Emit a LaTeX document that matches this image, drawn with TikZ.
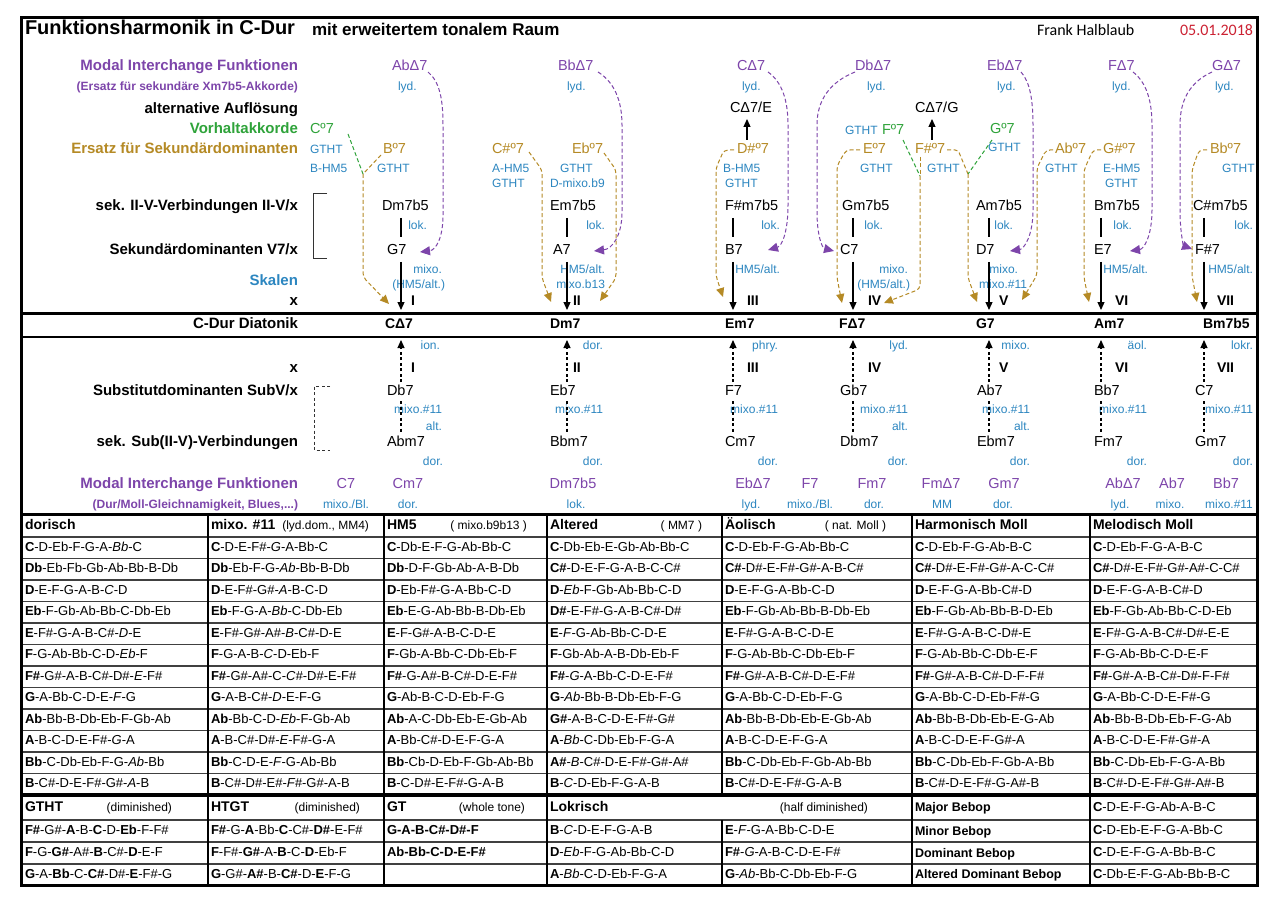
\documentclass[tikz,border=0pt]{standalone}
\usepackage{fontspec}
\setmainfont{Liberation Sans}
\newfontfamily\calibfont{Carlito}
\usetikzlibrary{arrows.meta}
\definecolor{cpurple}{HTML}{7D45AA}
\definecolor{cblue}{HTML}{2C86C0}
\definecolor{cgreen}{HTML}{2FA33A}
\definecolor{cgold}{HTML}{B58A25}
\definecolor{cred}{HTML}{CC2233}
\newcommand\fsz[1]{\fontsize{#1}{#1}\selectfont}
\newcommand\Rb[1]{\textbf{#1}}
\newcommand\Ri[1]{\textit{#1}}
\newcommand\trow[8]{%
\node[tcell] (tA#1) at (25,{537+21.5*(#1-0.5)}) {#2};%
\node[tcell] (tB#1) at (211,{537+21.5*(#1-0.5)}) {#3};%
\node[tcell] (tC#1) at (387,{537+21.5*(#1-0.5)}) {#4};%
\node[tcell] (tD#1) at (550,{537+21.5*(#1-0.5)}) {#5};%
\node[tcell] (tE#1) at (725,{537+21.5*(#1-0.5)}) {#6};%
\node[tcell] (tF#1) at (915,{537+21.5*(#1-0.5)}) {#7};%
\node[tcell] (tG#1) at (1093,{537+21.5*(#1-0.5)}) {#8};}
\begin{document}
\begin{tikzpicture}[x=1pt,y=-1pt,
 every node/.style={inner sep=0pt,outer sep=0pt,text height=0.716em,text depth=0pt},
 lbl/.style={font=\fsz{15}\bfseries,anchor=east},
 lbls/.style={font=\fsz{12}\bfseries,anchor=east},
 chd/.style={font=\fsz{14.5},anchor=west},
 chb/.style={font=\fsz{14}\bfseries,anchor=west},
 num/.style={font=\fsz{14}\bfseries,anchor=west},
 sc/.style={font=\fsz{12},text=cblue},
 pc/.style={font=\fsz{14.5},text=cpurple},
 gc/.style={font=\fsz{14.5},text=cgold},
 vc/.style={font=\fsz{14.5},text=cgreen},
 tcell/.style={font=\fsz{13},anchor=west},
 thead/.style={font=\fsz{14}\bfseries,anchor=west},
 tnote/.style={font=\fsz{12},anchor=east},
 bebop/.style={font=\fsz{12.5}\bfseries,anchor=west},
 arr/.style={line width=1.2pt,-{Triangle[length=8pt,width=7pt]}},
 darr/.style={line width=1.1pt,dash pattern=on 3pt off 2.5pt,-{Triangle[length=8pt,width=7pt]}},
 dline/.style={line width=1.1pt,dash pattern=on 3pt off 2.5pt},
 garr/.style={cgold,line width=1pt,dash pattern=on 4pt off 2.5pt,rounded corners=4pt,-{Triangle[length=9pt,width=8pt]}},
 gline/.style={cgold,line width=1pt,dash pattern=on 4pt off 2.5pt,rounded corners=3pt},
 vline/.style={cgreen,line width=1pt,dash pattern=on 4pt off 2.5pt},
 parr/.style={cpurple,line width=1pt,dash pattern=on 4pt off 2.5pt,-{Triangle[length=10pt,width=9pt]}},
 rowline/.style={black!75,line width=1.1pt},
 colline/.style={black,line width=2pt}]
\useasboundingbox (0,0) rectangle (1280,904);
\fill[white] (0,0) rectangle (1280,904);

% ---------- title ----------
\node[font=\fsz{20}\bfseries,anchor=west] (title) at (25,31) {Funktionsharmonik in C-Dur};
\node[font=\fsz{17}\bfseries,anchor=west] (subtitle) at (312,32) {mit erweitertem tonalem Raum};
\node[font=\calibfont\fsz{16},anchor=west] (author) at (1037,32) {Frank Halblaub};
\node[font=\calibfont\fsz{16},text=cred,anchor=east] (date) at (1253,32) {05.01.2018};

% ---------- left labels ----------
\node[lbl,text=cpurple] (lMI) at (298,67) {Modal Interchange Funktionen};
\node[lbls,text=cpurple] (lMIs) at (298,87) {(Ersatz für sekundäre Xm7b5-Akkorde)};
\node[lbl] (lAlt) at (298,110) {alternative Auflösung};
\node[lbl,text=cgreen] (lVor) at (298,130) {Vorhaltakkorde};
\node[lbl,text=cgold] (lErs) at (298,150) {Ersatz für Sekundärdominanten};
\node[lbl] (lIIV) at (298,207) {sek. II-V-Verbindungen II-V/x};
\node[lbl] (lSD) at (298,251) {Sekundärdominanten V7/x};
\node[lbl,text=cblue] (lSk) at (298,282) {Skalen};
\node[lbl] (lx1) at (298,302) {x};
\node[lbl] (lCD) at (298,325) {C-Dur Diatonik};
\node[lbl] (lx2) at (298,369) {x};
\node[lbl] (lSub) at (298,392) {Substitutdominanten SubV/x};
\node[lbl] (lSubII) at (298,443) {sek. Sub(II-V)-Verbindungen};
\node[lbl,text=cpurple] (lMI2) at (298,485) {Modal Interchange Funktionen};
\node[lbls,text=cpurple] (lMI2s) at (298,505) {(Dur/Moll-Gleichnamigkeit, Blues,...)};

% brackets
\coordinate (bA1) at (327,194); \coordinate (bA2) at (313,194);
\coordinate (bA3) at (313,259); \coordinate (bA4) at (327,259);
\draw[black!80,line width=1pt] (bA1) -- (bA2) -- (bA3) -- (bA4);
\coordinate (bB1) at (330,386); \coordinate (bB2) at (314,386);
\coordinate (bB3) at (314,450); \coordinate (bB4) at (330,450);
\draw[black!80,line width=1pt,dash pattern=on 3pt off 2.5pt] (bB1) -- (bB2) -- (bB3) -- (bB4);

% ---------- modal interchange (top) ----------
\node[pc,anchor=west] (mAb) at (392,67) {AbΔ7};
\node[sc,anchor=west] (mAbl) at (398,87) {lyd.};
\node[pc,anchor=west] (mBb) at (558,67) {BbΔ7};
\node[sc,anchor=west] (mBbl) at (567,87) {lyd.};
\node[pc,anchor=west] (mC) at (737,67) {CΔ7};
\node[sc,anchor=west] (mCl) at (742,87) {lyd.};
\node[pc,anchor=west] (mDb) at (855,67) {DbΔ7};
\node[sc,anchor=west] (mDbl) at (867,87) {lyd.};
\node[pc,anchor=west] (mEb) at (987,67) {EbΔ7};
\node[sc,anchor=west] (mEbl) at (997,87) {lyd.};
\node[pc,anchor=west] (mF) at (1108,67) {FΔ7};
\node[sc,anchor=west] (mFl) at (1112,87) {lyd.};
\node[pc,anchor=west] (mG) at (1212,67) {GΔ7};
\node[sc,anchor=west] (mGl) at (1215,87) {lyd.};

% alternative resolution
\node[chd] (altE) at (730,109) {CΔ7/E};
\node[chd] (altG) at (915,109) {CΔ7/G};
\coordinate (alE0) at (747,140); \coordinate (alE1) at (747,119);
\coordinate (alG0) at (932,140); \coordinate (alG1) at (932,119);
\draw[arr] (alE0) -- (alE1);
\draw[arr] (alG0) -- (alG1);

% Vorhalt
\node[vc,anchor=west] (vC) at (310,130) {Cº7};
\node[sc,anchor=west] (vCl) at (310,150) {GTHT};
\node[sc,anchor=west] (vCl2) at (310,169) {B-HM5};
\node[sc,anchor=west] (vFl) at (845,131) {GTHT};
\node[vc,anchor=west] (vF) at (882,131) {Fº7};
\node[vc,anchor=west] (vG) at (990,130) {Gº7};
\node[sc,anchor=west] (vGl) at (988,148) {GTHT};

% Ersatz
\node[gc,anchor=west] (gB) at (383,150) {Bº7};
\node[sc,anchor=west] (gBl) at (377,169) {GTHT};
\node[gc,anchor=west] (gCs) at (492,150) {C\#º7};
\node[sc,anchor=west] (gCsl) at (492,169) {A-HM5};
\node[sc,anchor=west] (gCsl2) at (492,184) {GTHT};
\node[gc,anchor=west] (gEb) at (572,150) {Ebº7};
\node[sc,anchor=west] (gEbl) at (560,169) {GTHT};
\node[sc,anchor=west] (gEbl2) at (550,184) {D-mixo.b9};
\node[gc,anchor=west] (gDs) at (737,150) {D\#º7};
\node[sc,anchor=west] (gDsl) at (723,169) {B-HM5};
\node[sc,anchor=west] (gDsl2) at (725,184) {GTHT};
\node[gc,anchor=west] (gE) at (863,150) {Eº7};
\node[sc,anchor=west] (gEl) at (860,169) {GTHT};
\node[gc,anchor=west] (gFs) at (915,150) {F\#º7};
\node[sc,anchor=west] (gFsl) at (927,169) {GTHT};
\node[gc,anchor=west] (gAb) at (1055,150) {Abº7};
\node[sc,anchor=west] (gAbl) at (1045,169) {GTHT};
\node[gc,anchor=west] (gGs) at (1103,150) {G\#º7};
\node[sc,anchor=west] (gGsl) at (1103,169) {E-HM5};
\node[sc,anchor=west] (gGsl2) at (1105,184) {GTHT};
\node[gc,anchor=west] (gBb) at (1210,150) {Bbº7};
\node[sc,anchor=west] (gBbl) at (1222,169) {GTHT};

% II-V row
\node[chd] (ii1) at (382,207) {Dm7b5};
\node[chd] (ii2) at (550,207) {Em7b5};
\node[chd] (ii3) at (725,207) {F\#m7b5};
\node[chd] (ii4) at (842,207) {Gm7b5};
\node[chd] (ii5) at (976,207) {Am7b5};
\node[chd] (ii6) at (1094,207) {Bm7b5};
\node[chd] (ii7) at (1193,207) {C\#m7b5};
\node[sc,anchor=east] (lk1) at (427,226) {lok.};
\node[sc,anchor=east] (lk2) at (605,226) {lok.};
\node[sc,anchor=east] (lk3) at (780,226) {lok.};
\node[sc,anchor=east] (lk4) at (883,226) {lok.};
\node[sc,anchor=east] (lk5) at (1013,226) {lok.};
\node[sc,anchor=east] (lk6) at (1132,226) {lok.};
\node[sc,anchor=east] (lk7) at (1253,226) {lok.};

% V7 row
\node[chd] (v1) at (387,251) {G7};
\node[chd] (v2) at (553,251) {A7};
\node[chd] (v3) at (725,251) {B7};
\node[chd] (v4) at (840,251) {C7};
\node[chd] (v5) at (976,251) {D7};
\node[chd] (v6) at (1094,251) {E7};
\node[chd] (v7) at (1195,251) {F\#7};

% scales
\node[sc,anchor=east] (s1a) at (442,270) {mixo.};
\node[sc,anchor=east] (s1b) at (445,285) {(HM5/alt.)};
\node[sc,anchor=east] (s2a) at (605,270) {HM5/alt.};
\node[sc,anchor=east] (s2b) at (605,285) {mixo.b13};
\node[sc,anchor=east] (s3a) at (780,270) {HM5/alt.};
\node[sc,anchor=east] (s4a) at (908,270) {mixo.};
\node[sc,anchor=east] (s4b) at (910,285) {(HM5/alt.)};
\node[sc,anchor=east] (s5a) at (1018,270) {mixo.};
\node[sc,anchor=east] (s5b) at (1027,285) {mixo.\#11};
\node[sc,anchor=east] (s6a) at (1148,270) {HM5/alt.};
\node[sc,anchor=east] (s7a) at (1253,270) {HM5/alt.};

% numerals upper
\node[num] (n1) at (411,302) {I};
\node[num] (n2) at (573,302) {II};
\node[num] (n3) at (747,302) {III};
\node[num] (n4) at (868,302) {IV};
\node[num] (n5) at (999,302) {V};
\node[num] (n6) at (1115,302) {VI};
\node[num] (n7) at (1217,302) {VII};

% diatonic
\node[chb] (d1) at (385,325) {CΔ7};
\node[chb] (d2) at (550,325) {Dm7};
\node[chb] (d3) at (725,325) {Em7};
\node[chb] (d4) at (839,325) {FΔ7};
\node[chb] (d5) at (976,325) {G7};
\node[chb] (d6) at (1094,325) {Am7};
\node[chb] (d7) at (1203,325) {Bm7b5};

% modes
\node[sc,anchor=east] (md1) at (440,346) {ion.};
\node[sc,anchor=east] (md2) at (603,346) {dor.};
\node[sc,anchor=east] (md3) at (778,346) {phry.};
\node[sc,anchor=east] (md4) at (908,346) {lyd.};
\node[sc,anchor=east] (md5) at (1030,346) {mixo.};
\node[sc,anchor=east] (md6) at (1147,346) {äol.};
\node[sc,anchor=east] (md7) at (1253,346) {lokr.};

% numerals lower
\node[num] (m1) at (411,369) {I};
\node[num] (m2) at (573,369) {II};
\node[num] (m3) at (747,369) {III};
\node[num] (m4) at (868,369) {IV};
\node[num] (m5) at (999,369) {V};
\node[num] (m6) at (1115,369) {VI};
\node[num] (m7) at (1217,369) {VII};

% SubV
\node[chd] (sv1) at (387,392) {Db7};
\node[chd] (sv2) at (550,392) {Eb7};
\node[chd] (sv3) at (725,392) {F7};
\node[chd] (sv4) at (840,392) {Gb7};
\node[chd] (sv5) at (977,392) {Ab7};
\node[chd] (sv6) at (1094,392) {Bb7};
\node[chd] (sv7) at (1195,392) {C7};
\node[sc,anchor=east] (mx1) at (442,410) {mixo.\#11};
\node[sc,anchor=east] (mx2) at (603,410) {mixo.\#11};
\node[sc,anchor=east] (mx3) at (778,410) {mixo.\#11};
\node[sc,anchor=east] (mx4) at (908,410) {mixo.\#11};
\node[sc,anchor=east] (mx5) at (1030,410) {mixo.\#11};
\node[sc,anchor=east] (mx6) at (1147,410) {mixo.\#11};
\node[sc,anchor=east] (mx7) at (1253,410) {mixo.\#11};
\node[sc,anchor=east] (al1) at (442,427) {alt.};
\node[sc,anchor=east] (al4) at (908,427) {alt.};
\node[sc,anchor=east] (al5) at (1030,427) {alt.};

% Sub II
\node[chd] (si1) at (387,443) {Abm7};
\node[chd] (si2) at (550,443) {Bbm7};
\node[chd] (si3) at (725,443) {Cm7};
\node[chd] (si4) at (840,443) {Dbm7};
\node[chd] (si5) at (977,443) {Ebm7};
\node[chd] (si6) at (1094,443) {Fm7};
\node[chd] (si7) at (1195,443) {Gm7};
\node[sc,anchor=east] (dr1) at (443,462) {dor.};
\node[sc,anchor=east] (dr2) at (603,462) {dor.};
\node[sc,anchor=east] (dr3) at (778,462) {dor.};
\node[sc,anchor=east] (dr4) at (908,462) {dor.};
\node[sc,anchor=east] (dr5) at (1030,462) {dor.};
\node[sc,anchor=east] (dr6) at (1147,462) {dor.};
\node[sc,anchor=east] (dr7) at (1253,462) {dor.};

% modal interchange bottom
\node[pc] (b1) at (346,485) {C7};
\node[pc] (b2) at (408,485) {Cm7};
\node[pc] (b3) at (573,485) {Dm7b5};
\node[pc] (b4) at (753,485) {EbΔ7};
\node[pc] (b5) at (810,485) {F7};
\node[pc] (b6) at (872,485) {Fm7};
\node[pc] (b7) at (941,485) {FmΔ7};
\node[pc] (b8) at (1004,485) {Gm7};
\node[pc] (b9) at (1123,485) {AbΔ7};
\node[pc] (b10) at (1172,485) {Ab7};
\node[pc] (b11) at (1226,485) {Bb7};
\node[sc] (bl1) at (346,505) {mixo./Bl.};
\node[sc] (bl2) at (408,505) {dor.};
\node[sc] (bl3) at (576,505) {lok.};
\node[sc] (bl4) at (751,505) {lyd.};
\node[sc] (bl5) at (810,505) {mixo./Bl.};
\node[sc] (bl6) at (874,505) {dor.};
\node[sc] (bl7) at (942,505) {MM};
\node[sc] (bl8) at (1003,505) {dor.};
\node[sc] (bl9) at (1120,505) {lyd.};
\node[sc] (bl10) at (1170,505) {mixo.};
\node[sc] (bl11) at (1229,505) {mixo.\#11};

% ---------- vertical connectors per column ----------
\foreach \k/\x in {1/401,2/567,3/733,4/853,5/989,6/1101,7/1204}{
  \coordinate (sa\k) at (\x,218); \coordinate (sb\k) at (\x,237);
  \draw[line width=1.1pt] (sa\k) -- (sb\k);
  \coordinate (aa\k) at (\x,262); \coordinate (ab\k) at (\x,310);
  \draw[arr] (aa\k) -- (ab\k);
  \coordinate (da\k) at (\x,382); \coordinate (db\k) at (\x,340);
  \draw[darr] (da\k) -- (db\k);
  \coordinate (ea\k) at (\x,401); \coordinate (eb\k) at (\x,433);
  \draw[dline] (ea\k) -- (eb\k);
}

% ---------- purple curves ----------
\coordinate (p1s) at (428,72); \coordinate (p1e) at (420,252);
\draw[parr] (p1s) .. controls (440,82) and (443,100) .. (443,125) -- (443,215) .. controls (443,238) and (436,250) .. (p1e);
\coordinate (p2s) at (598,72); \coordinate (p2e) at (594,251);
\draw[parr] (p2s) .. controls (614,82) and (622,100) .. (622,125) -- (622,212) .. controls (622,236) and (612,249) .. (p2e);
\coordinate (p3s) at (768,72); \coordinate (p3e) at (768,250);
\draw[parr] (p3s) .. controls (782,82) and (788,100) .. (788,125) -- (788,205) .. controls (788,232) and (782,246) .. (p3e);
\coordinate (p4s) at (855,72); \coordinate (p4e) at (834,251);
\draw[parr] (p4s) .. controls (830,82) and (817,100) .. (817,125) -- (817,212) .. controls (817,235) and (822,248) .. (p4e);
\coordinate (p5s) at (1021,72); \coordinate (p5e) at (1010,251);
\draw[parr] (p5s) .. controls (1030,82) and (1033,100) .. (1033,125) -- (1033,210) .. controls (1033,236) and (1024,249) .. (p5e);
\coordinate (p6s) at (1133,72); \coordinate (p6e) at (1130,251);
\draw[parr] (p6s) .. controls (1146,82) and (1152,100) .. (1152,125) -- (1152,210) .. controls (1152,236) and (1144,249) .. (p6e);
\coordinate (p7s) at (1212,72); \coordinate (p7e) at (1192,249);
\draw[parr] (p7s) .. controls (1190,82) and (1180,100) .. (1180,125) -- (1180,210) .. controls (1180,234) and (1184,246) .. (p7e);

% ---------- gold / green connectors ----------
% I
\coordinate (vCe) at (348,134); \coordinate (gBe) at (381,155); \coordinate (gI0) at (363,174); \coordinate (gIt) at (389,304);
\draw[vline] (vCe) -- (gI0);
\draw[gline] (gBe) -- (gI0);
\draw[garr] (gI0) -- (363,277) -- (gIt);
% II
\coordinate (gCse) at (529,152); \coordinate (gCst) at (551,302);
\draw[garr] (gCse) -- (542,170) -- (542,278) -- (gCst);
\coordinate (gEbe) at (604,153); \coordinate (gEbt) at (600,301);
\draw[garr] (gEbe) -- (616,170) -- (616,278) -- (gEbt);
% III
\coordinate (gDse) at (734,150); \coordinate (gDst) at (723,297);
\draw[garr] (gDse) -- (724,150) -- (716,168) -- (716,276) -- (gDst);
% IV
\coordinate (gEe) at (860,150); \coordinate (gEt) at (842,303);
\draw[garr] (gEe) -- (846,150) -- (837,166) -- (837,278) -- (gEt);
\coordinate (vFe) at (903,140); \coordinate (gIV0) at (920,176);
\coordinate (gFsw) at (920,157); \coordinate (gIVt) at (884,303);
\draw[vline] (vFe) -- (gIV0);
\draw[gline] (gFsw) -- (gIV0);
\draw[garr] (gIV0) -- (920,289) -- (gIVt);
% V
\coordinate (gFse) at (947,150); \coordinate (vGe) at (992,140);
\coordinate (gV0) at (968,174); \coordinate (gVt) at (977,302);
\draw[gline] (gFse) -- (958,150) -- (gV0);
\draw[vline] (vGe) -- (gV0);
\draw[garr] (gV0) -- (968,278) -- (gVt);
\coordinate (gAbe) at (1053,150); \coordinate (gAbt) at (1022,300);
\draw[garr] (gAbe) -- (1046,150) -- (1037,168) -- (1037,275) -- (gAbt);
% VI
\coordinate (gGse) at (1101,150); \coordinate (gGst) at (1089,302);
\draw[garr] (gGse) -- (1093,150) -- (1084,170) -- (1084,278) -- (gGst);
% VII
\coordinate (gBbe) at (1207,150); \coordinate (gBbt) at (1197,302);
\draw[garr] (gBbe) -- (1199,150) -- (1192,170) -- (1192,276) -- (gBbt);

% ---------- frame and separators ----------
\draw[line width=3pt] (21,313) -- (1257,313);
\draw[line width=2.5pt] (21,337) -- (1257,337);

% ---------- table 1 ----------
\foreach \k in {0,...,11}{ \draw[rowline] (21,{537+21.5*\k}) -- (1257,{537+21.5*\k}); }
\foreach \x in {208,384,547,722,912,1090}{ \draw[colline] (\x,514) -- (\x,795); }
\draw[line width=3pt] (21,514) -- (1257,514);
\draw[line width=4pt] (21,795) -- (1257,795);

\node[thead] (hA) at (25,525.5) {dorisch};
\node[thead] (hB) at (211,525.5) {mixo. \#11};
\node[tnote] (hBn) at (369,525.5) {(lyd.dom., MM4)};
\node[thead] (hC) at (387,525.5) {HM5};
\node[tnote] (hCn) at (527,525.5) {( mixo.b9b13 )};
\node[thead] (hD) at (550,525.5) {Altered};
\node[tnote] (hDn) at (702,525.5) {( MM7 )};
\node[thead] (hE) at (725,525.5) {Äolisch};
\node[tnote] (hEn) at (886,525.5) {( nat. Moll )};
\node[thead] (hF) at (915,525.5) {Harmonisch Moll};
\node[thead] (hG) at (1093,525.5) {Melodisch Moll};

\trow{1}{\Rb{C}-D-Eb-F-G-A-\Ri{Bb}-C}{\Rb{C}-D-E-F\#-\Ri{G}-A-Bb-C}{\Rb{C}-Db-E-F-G-Ab-Bb-C}{\Rb{C}-Db-Eb-E-Gb-Ab-Bb-C}{\Rb{C}-D-Eb-F-G-Ab-Bb-C}{\Rb{C}-D-Eb-F-G-Ab-B-C}{\Rb{C}-D-Eb-F-G-A-B-C}
\trow{2}{\Rb{Db}-Eb-Fb-Gb-Ab-Bb-B-Db}{\Rb{Db}-Eb-F-G-\Ri{Ab}-Bb-B-Db}{\Rb{Db}-D-F-Gb-Ab-A-B-Db}{\Rb{C\#}-D-E-F-G-A-B-C-C\#}{\Rb{C\#}-D\#-E-F\#-G\#-A-B-C\#}{\Rb{C\#}-D\#-E-F\#-G\#-A-C-C\#}{\Rb{C\#}-D\#-E-F\#-G\#-A\#-C-C\#}
\trow{3}{\Rb{D}-E-F-G-A-B-\Ri{C}-D}{\Rb{D}-E-F\#-G\#-\Ri{A}-B-C-D}{\Rb{D}-Eb-F\#-G-A-Bb-C-D}{\Rb{D}-\Ri{Eb}-F-Gb-Ab-Bb-C-D}{\Rb{D}-E-F-G-A-Bb-C-D}{\Rb{D}-E-F-G-A-Bb-C\#-D}{\Rb{D}-E-F-G-A-B-C\#-D}
\trow{4}{\Rb{Eb}-F-Gb-Ab-Bb-C-Db-Eb}{\Rb{Eb}-F-G-A-\Ri{Bb}-C-Db-Eb}{\Rb{Eb}-E-G-Ab-Bb-B-Db-Eb}{\Rb{D\#}-E-F\#-G-A-B-C\#-D\#}{\Rb{Eb}-F-Gb-Ab-Bb-B-Db-Eb}{\Rb{Eb}-F-Gb-Ab-Bb-B-D-Eb}{\Rb{Eb}-F-Gb-Ab-Bb-C-D-Eb}
\trow{5}{\Rb{E}-F\#-G-A-B-C\#-\Ri{D}-E}{\Rb{E}-F\#-G\#-A\#-\Ri{B}-C\#-D-E}{\Rb{E}-F-G\#-A-B-C-D-E}{\Rb{E}-\Ri{F}-G-Ab-Bb-C-D-E}{\Rb{E}-F\#-G-A-B-C-D-E}{\Rb{E}-F\#-G-A-B-C-D\#-E}{\Rb{E}-F\#-G-A-B-C\#-D\#-E-E}
\trow{6}{\Rb{F}-G-Ab-Bb-C-D-\Ri{Eb}-F}{\Rb{F}-G-A-B-\Ri{C}-D-Eb-F}{\Rb{F}-Gb-A-Bb-C-Db-Eb-F}{\Rb{F}-Gb-Ab-A-B-Db-Eb-F}{\Rb{F}-G-Ab-Bb-C-Db-Eb-F}{\Rb{F}-G-Ab-Bb-C-Db-E-F}{\Rb{F}-G-Ab-Bb-C-D-E-F}
\trow{7}{\Rb{F\#}-G\#-A-B-C\#-D\#-\Ri{E}-F\#}{\Rb{F\#}-G\#-A\#-C-\Ri{C\#}-D\#-E-F\#}{\Rb{F\#}-G-A\#-B-C\#-D-E-F\#}{\Rb{F\#}-\Ri{G}-A-Bb-C-D-E-F\#}{\Rb{F\#}-G\#-A-B-C\#-D-E-F\#}{\Rb{F\#}-G\#-A-B-C\#-D-F-F\#}{\Rb{F\#}-G\#-A-B-C\#-D\#-F-F\#}
\trow{8}{\Rb{G}-A-Bb-C-D-E-\Ri{F}-G}{\Rb{G}-A-B-C\#-\Ri{D}-E-F-G}{\Rb{G}-Ab-B-C-D-Eb-F-G}{\Rb{G}-\Ri{Ab}-Bb-B-Db-Eb-F-G}{\Rb{G}-A-Bb-C-D-Eb-F-G}{\Rb{G}-A-Bb-C-D-Eb-F\#-G}{\Rb{G}-A-Bb-C-D-E-F\#-G}
\trow{9}{\Rb{Ab}-Bb-B-Db-Eb-F-Gb-Ab}{\Rb{Ab}-Bb-C-D-\Ri{Eb}-F-Gb-Ab}{\Rb{Ab}-A-C-Db-Eb-E-Gb-Ab}{\Rb{G\#}-A-B-C-D-E-F\#-G\#}{\Rb{Ab}-Bb-B-Db-Eb-E-Gb-Ab}{\Rb{Ab}-Bb-B-Db-Eb-E-G-Ab}{\Rb{Ab}-Bb-B-Db-Eb-F-G-Ab}
\trow{10}{\Rb{A}-B-C-D-E-F\#-\Ri{G}-A}{\Rb{A}-B-C\#-D\#-\Ri{E}-F\#-G-A}{\Rb{A}-Bb-C\#-D-E-F-G-A}{\Rb{A}-\Ri{Bb}-C-Db-Eb-F-G-A}{\Rb{A}-B-C-D-E-F-G-A}{\Rb{A}-B-C-D-E-F-G\#-A}{\Rb{A}-B-C-D-E-F\#-G\#-A}
\trow{11}{\Rb{Bb}-C-Db-Eb-F-G-\Ri{Ab}-Bb}{\Rb{Bb}-C-D-E-\Ri{F}-G-Ab-Bb}{\Rb{Bb}-Cb-D-Eb-F-Gb-Ab-Bb}{\Rb{A\#}-\Ri{B}-C\#-D-E-F\#-G\#-A\#}{\Rb{Bb}-C-Db-Eb-F-Gb-Ab-Bb}{\Rb{Bb}-C-Db-Eb-F-Gb-A-Bb}{\Rb{Bb}-C-Db-Eb-F-G-A-Bb}
\trow{12}{\Rb{B}-C\#-D-E-F\#-G\#-\Ri{A}-B}{\Rb{B}-C\#-D\#-E\#-\Ri{F\#}-G\#-A-B}{\Rb{B}-C-D\#-E-F\#-G-A-B}{\Rb{B}-\Ri{C}-D-Eb-F-G-A-B}{\Rb{B}-C\#-D-E-F\#-G-A-B}{\Rb{B}-C\#-D-E-F\#-G-A\#-B}{\Rb{B}-C\#-D-E-F\#-G\#-A\#-B}

% ---------- table 2 ----------
\foreach \y in {820,842,864}{ \draw[rowline] (21,\y) -- (1257,\y); }
\foreach \x in {208,384,547,912,1090}{ \draw[colline] (\x,795) -- (\x,885); }
\draw[colline] (722,820) -- (722,885);

\node[thead] (kA) at (25,807.5) {GTHT};
\node[tnote] (kAn) at (172,807.5) {(diminished)};
\node[thead] (kB) at (211,807.5) {HTGT};
\node[tnote] (kBn) at (360,807.5) {(diminished)};
\node[thead] (kC) at (387,807.5) {GT};
\node[tnote] (kCn) at (525,807.5) {(whole tone)};
\node[thead] (kD) at (550,807.5) {Lokrisch};
\node[tnote] (kDn) at (868,807.5) {(half diminished)};
\node[bebop] (kF0) at (915,808) {Major Bebop};
\node[tcell] (kG0) at (1093,807.5) {\Rb{C}-D-E-F-G-Ab-A-B-C};

\node[tcell] (kA1) at (25,831) {\Rb{F\#}-G\#-\Rb{A}-B-\Rb{C}-D-\Rb{Eb}-F-F\#};
\node[tcell] (kA2) at (25,853) {\Rb{F}-G-\Rb{G\#}-A\#-\Rb{B}-C\#-\Rb{D}-E-F};
\node[tcell] (kA3) at (25,874.5) {\Rb{G}-A-\Rb{Bb}-C-\Rb{C\#}-D\#-\Rb{E}-F\#-G};
\node[tcell] (kB1) at (211,831) {\Rb{F\#}-G-\Rb{A}-Bb-\Rb{C}-C\#-\Rb{D\#}-E-F\#};
\node[tcell] (kB2) at (211,853) {\Rb{F}-F\#-\Rb{G\#}-A-\Rb{B}-C-\Rb{D}-Eb-F};
\node[tcell] (kB3) at (211,874.5) {\Rb{G}-G\#-\Rb{A\#}-B-\Rb{C\#}-D-\Rb{E}-F-G};
\node[tcell] (kC1) at (387,831) {\textbf{G-A-B-C\#-D\#-F}};
\node[tcell] (kC2) at (387,853) {\textbf{Ab-Bb-C-D-E-F\#}};
\node[tcell] (kD1) at (550,831) {\Rb{B}-\Ri{C}-D-E-F-G-A-B};
\node[tcell] (kD2) at (550,853) {\Rb{D}-\Ri{Eb}-F-G-Ab-Bb-C-D};
\node[tcell] (kD3) at (550,874.5) {\Rb{A}-\Ri{Bb}-C-D-Eb-F-G-A};
\node[tcell] (kE1) at (725,831) {\Rb{E}-\Ri{F}-G-A-Bb-C-D-E};
\node[tcell] (kE2) at (725,853) {\Rb{F\#}-\Ri{G}-A-B-C-D-E-F\#};
\node[tcell] (kE3) at (725,874.5) {\Rb{G}-\Ri{Ab}-Bb-C-Db-Eb-F-G};
\node[bebop] (kF1) at (915,831.5) {Minor Bebop};
\node[bebop] (kF2) at (915,853.5) {Dominant Bebop};
\node[bebop] (kF3) at (915,875) {Altered Dominant Bebop};
\node[tcell] (kG1) at (1093,831) {\Rb{C}-D-Eb-E-F-G-A-Bb-C};
\node[tcell] (kG2) at (1093,853) {\Rb{C}-D-E-F-G-A-Bb-B-C};
\node[tcell] (kG3) at (1093,874.5) {\Rb{C}-Db-E-F-G-Ab-Bb-B-C};

% outer frame
\draw[line width=3pt] (21,18) rectangle (1257,885);
\end{tikzpicture}
\end{document}
